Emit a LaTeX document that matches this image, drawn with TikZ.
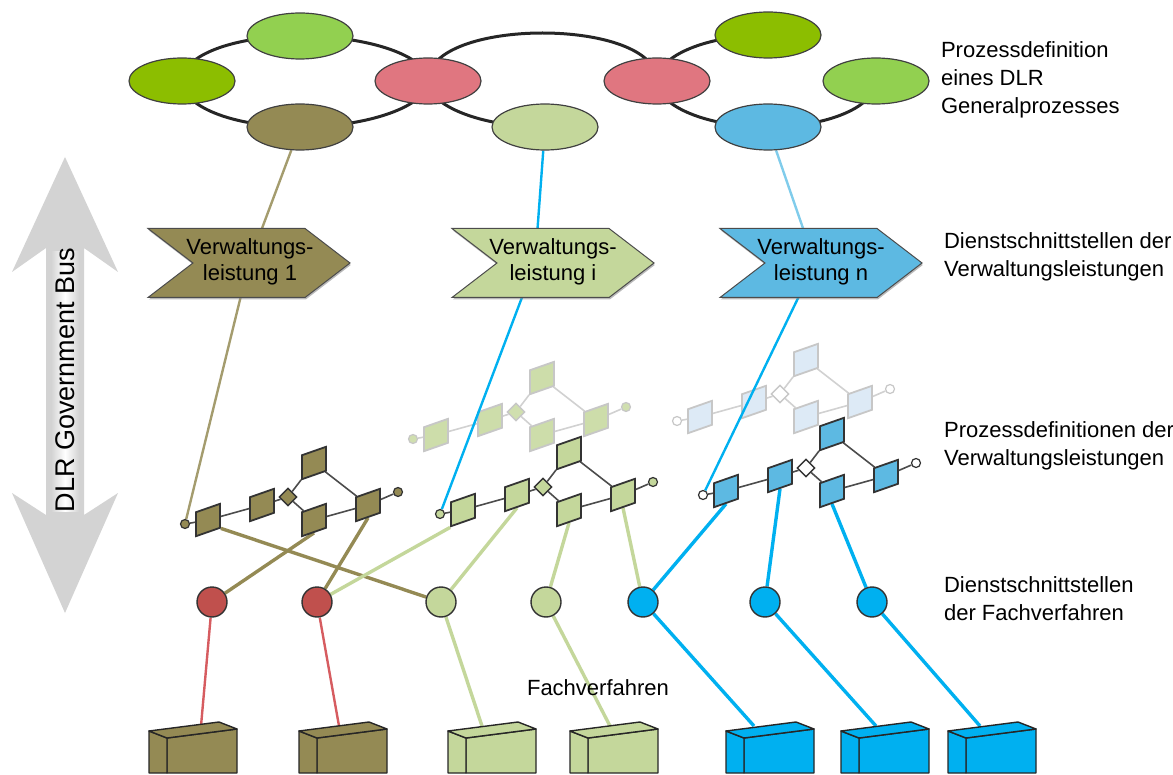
\documentclass[tikz,border=0pt]{standalone}
\usepackage{fontspec}
\setmainfont{Liberation Sans}
\usetikzlibrary{shapes.geometric,shapes.symbols,shadows}

\pgfdeclarelayer{ghost}
\pgfdeclarelayer{links}
\pgfsetlayers{ghost,links,main}

\definecolor{oliv}{RGB}{148,138,84}
\definecolor{hellgruen}{RGB}{196,215,155}
\definecolor{cyanblau}{RGB}{0,176,240}
\definecolor{himmelblau}{RGB}{93,185,226}
\definecolor{gelbgruen}{RGB}{140,190,0}
\definecolor{maigruen}{RGB}{146,208,80}
\definecolor{rosa}{RGB}{224,118,128}
\definecolor{ziegel}{RGB}{192,80,77}
\definecolor{ziegellinie}{RGB}{214,92,96}
\definecolor{eisblau}{RGB}{221,234,246}
\definecolor{hellblaulinie}{RGB}{128,204,235}
\definecolor{pfeilgrau}{RGB}{211,211,211}

\tikzset{
  ring/.style={draw=black!85, line width=1.5pt},
  ellip/.style={ellipse, draw=black!75, line width=.6pt, minimum width=53pt,
    minimum height=23pt, inner sep=0pt},
  chevron/.style={signal, signal from=west, signal to=east, signal pointer angle=75,
    draw=black!70, line width=.5pt, minimum width=101pt, minimum height=34.5pt,
    inner sep=0pt,
    drop shadow={shadow xshift=.4pt, shadow yshift=-1pt, opacity=.55}},
  chevtext/.style={align=center, inner sep=0pt, font=\fontsize{11}{13}\selectfont},
  pbox/.style={rectangle, minimum size=12pt, inner sep=0pt, yslant=.35, line width=.9pt},
  praute/.style={diamond, minimum size=9pt, inner sep=0pt, line width=.7pt},
  pkreis/.style={circle, minimum size=4.5pt, inner sep=0pt, line width=.6pt},
  schnitt/.style={circle, draw=black!80, line width=.7pt, minimum size=15pt, inner sep=0pt},
  fbox/.style={draw=black!85, line width=.7pt, line join=round},
  verb/.style={line width=1.2pt},
  dick/.style={line width=1.7pt},
  beschr/.style={anchor=west, align=left, font=\fontsize{11}{14}\selectfont},
}

% process chain: name, x, y, box fill, dot fill, outline, link colour
\newcommand{\kette}[7]{%
  \node[pkreis, fill=#5, draw=#6] (#1-s) at (#2,#3) {};
  \node[pbox, fill=#4, draw=#6] (#1-a) at (#2+23,#3-4) {};
  \node[pbox, fill=#4, draw=#6] (#1-b) at (#2+77,#3-19) {};
  \node[praute, fill=#5, draw=#6] (#1-d) at (#2+103,#3-27) {};
  \node[pbox, fill=#4, draw=#6] (#1-o) at (#2+129,#3-61) {};
  \node[pbox, fill=#4, draw=#6] (#1-u) at (#2+129,#3-4) {};
  \node[pbox, fill=#4, draw=#6] (#1-r) at (#2+183,#3-19) {};
  \node[pkreis, fill=#5, draw=#6] (#1-e) at (#2+213,#3-32) {};
  \draw[draw=#7, line width=.8pt] (#1-s) -- (#1-a) -- (#1-b) -- (#1-d) -- (#1-o) -- (#1-r) -- (#1-e)
    (#1-d) -- (#1-u) -- (#1-r);
}

% Fachverfahren block: x of front face, fill
\newcommand{\fachbox}[2]{%
  \filldraw[fbox, fill=#2] (#1,738) -- (#1+70,729) -- (#1+70,773) -- (#1,773) -- cycle;
  \filldraw[fbox, fill=#2] (#1-18,731) -- (#1,738) -- (#1,773) -- (#1-18,773) -- cycle;
  \filldraw[fbox, fill=#2] (#1-18,731) -- (#1+52,722) -- (#1+70,729) -- (#1,738) -- cycle;
}

\begin{document}
\begin{tikzpicture}[x=0.5pt, y=-0.5pt]
\useasboundingbox (0,0) rectangle (1173,775);

% bus arrow
\fill[pfeilgrau] (65,157) -- (118,272) -- (84,248) -- (84,515) -- (118,493) -- (65,613)
  -- (12,493) -- (46,515) -- (46,248) -- (12,272) -- cycle;
\shade[left color=pfeilgrau, right color=pfeilgrau, middle color=white] (51,252) rectangle (79,511);
\node[rotate=90, font=\fontsize{13.5}{14}\selectfont] (bus) at (65,380) {DLR Government Bus};

% general process
\node[ellip, fill=gelbgruen] (links)  at (182,81)  {};
\node[ellip, fill=maigruen]  (oben1)  at (300,36)  {};
\node[ellip, fill=oliv]      (olivgp) at (300,127) {};
\node[ellip, fill=rosa]      (rosa1)  at (428,81)  {};
\node[ellip, fill=hellgruen] (hellgp) at (545,127) {};
\node[ellip, fill=rosa]      (rosa2)  at (657,81)  {};
\node[ellip, fill=gelbgruen] (oben2)  at (768,35)  {};
\node[ellip, fill=maigruen]  (rechts) at (876,81)  {};
\node[ellip, fill=himmelblau] (blaugp) at (768,127) {};

% service interfaces
\node[chevron, fill=oliv]       (vl1) at (249,263) {};
\node[chevron, fill=hellgruen]  (vli) at (553,263) {};
\node[chevron, fill=himmelblau] (vln) at (821,263) {};
\node[chevtext] (vl1t) at (250,262) {Verwaltungs-\\leistung 1};
\node[chevtext] (vlit) at (553,262) {Verwaltungs-\\leistung i};
\node[chevtext] (vlnt) at (821,262) {Verwaltungs-\\leistung n};

% process definitions
\begin{pgfonlayer}{ghost}
\kette{g2}{413}{439}{hellgruen!85!white}{hellgruen!80!white}{black!22}{black!18}
\kette{g3}{677}{421}{eisblau}{white}{black!22}{black!18}
\end{pgfonlayer}
\kette{p1}{185}{524}{oliv}{oliv}{black!80}{black!70}
\kette{p2}{440}{514}{hellgruen}{hellgruen}{black!80}{black!70}
\kette{p3}{703}{495}{himmelblau}{white}{black!80}{black!70}

% interfaces of the Fachverfahren
\node[schnitt, fill=ziegel]    (fs1) at (212,602) {};
\node[schnitt, fill=ziegel]    (fs2) at (317,602) {};
\node[schnitt, fill=hellgruen] (fs3) at (441,602) {};
\node[schnitt, fill=hellgruen] (fs4) at (546,602) {};
\node[schnitt, fill=cyanblau]  (fs5) at (643,602) {};
\node[schnitt, fill=cyanblau]  (fs6) at (765,602) {};
\node[schnitt, fill=cyanblau]  (fs7) at (872,602) {};

\fachbox{167}{oliv}
\fachbox{317}{oliv}
\fachbox{466}{hellgruen}
\fachbox{588}{hellgruen}
\fachbox{744}{cyanblau}
\fachbox{859}{cyanblau}
\fachbox{966}{cyanblau}
\coordinate (fv1) at (201,726);
\coordinate (fv2) at (339,726);
\coordinate (fv3) at (482,726);
\coordinate (fv4) at (610,726);
\coordinate (fv5) at (754,726);
\coordinate (fv6) at (876,726);
\coordinate (fv7) at (980,726);

% connections
\begin{pgfonlayer}{links}
\draw[ring] (links.center) .. controls +(0,-25) and +(-68,0) .. (oben1.center)
  .. controls +(68,0) and +(0,-25) .. (rosa1.center)
  .. controls +(0,25) and +(68,0) .. (olivgp.center)
  .. controls +(-68,0) and +(0,25) .. (links.center);
\draw[ring] (rosa1.center) .. controls +(0,-64) and +(0,-64) .. (rosa2.center);
\draw[ring] (rosa1.center) .. controls +(0,25) and +(-63,0) .. (hellgp.center);
\draw[ring] (oben2.center) .. controls +(-61,0) and +(0,-25) .. (rosa2.center)
  .. controls +(0,25) and +(-61,0) .. (blaugp.center)
  .. controls +(61,0) and +(0,25) .. (rechts.center);

\draw[verb, draw=oliv!85!white] (olivgp) -- (vl1.center) -- (p1-s);
\draw[verb, draw=cyanblau] (hellgp) -- ([xshift=-9pt]vli.center) -- (p2-s);
\draw[verb, draw=hellblaulinie] (blaugp) -- ([xshift=-3pt]vln.center);
\draw[verb, draw=cyanblau] ([xshift=-3pt]vln.center) -- (p3-s);

\draw[dick, draw=oliv] (p1-a.south east) -- (fs3);
\draw[dick, draw=oliv] (p1-u.south) -- (fs1);
\draw[dick, draw=oliv] (p1-r.south) -- (fs2);
\draw[dick, draw=hellgruen] (p2-a.south west) -- (fs2);
\draw[dick, draw=hellgruen] (p2-b.south) -- (fs3);
\draw[dick, draw=hellgruen] (p2-u.south) -- (fs4);
\draw[dick, draw=hellgruen] (p2-r.south) -- (fs5);
\draw[dick, draw=cyanblau] (p3-a.south) -- (fs5);
\draw[dick, draw=cyanblau] (p3-b.south) -- (fs6);
\draw[dick, draw=cyanblau] (p3-u.south) -- (fs7);

\draw[verb, draw=ziegellinie] (fs1) -- (fv1);
\draw[verb, draw=ziegellinie] (fs2) -- (fv2);
\draw[dick, draw=hellgruen] (fs3) -- (fv3);
\draw[dick, draw=hellgruen] (fs4) -- (fv4);
\draw[dick, draw=cyanblau] (fs5) -- (fv5);
\draw[dick, draw=cyanblau] (fs6) -- (fv6);
\draw[dick, draw=cyanblau] (fs7) -- (fv7);
\end{pgfonlayer}

% layer captions
\node[beschr] (t1) at (934,80)  {Prozessdefinition\\eines DLR\\Generalprozesses};
\node[beschr] (t2) at (937,257) {Dienstschnittstellen der\\Verwaltungsleistungen};
\node[beschr] (t3) at (937,446) {Prozessdefinitionen der\\Verwaltungsleistungen};
\node[beschr] (t4) at (937,599) {Dienstschnittstellen\\der Fachverfahren};
\node[beschr] (t5) at (520,688) {Fachverfahren};
\end{tikzpicture}
\end{document}
